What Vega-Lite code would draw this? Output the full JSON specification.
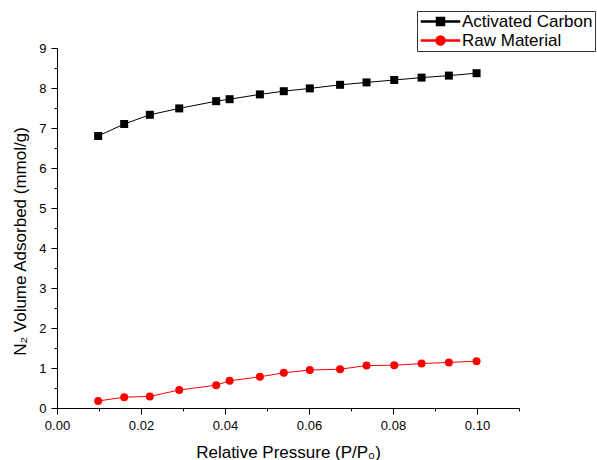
{
  "$schema": "https://vega.github.io/schema/vega-lite/v6.json",
  "width": 462,
  "height": 360,
  "autosize": {"type": "none"},
  "padding": {"left": 57, "top": 48, "right": 78, "bottom": 52},
  "config": {
    "view": {"stroke": null},
    "font": "Liberation Sans",
    "axis": {
      "grid": false,
      "domainColor": "black",
      "domainWidth": 1,
      "tickColor": "black",
      "tickWidth": 1,
      "labelColor": "black",
      "labelFontSize": 13,
      "labelFont": "Liberation Sans",
      "titleFont": "Liberation Sans",
      "titleFontSize": 17,
      "titleFontWeight": "normal",
      "titleColor": "black",
      "labelOverlap": false,
      "labelFlush": false
    },
    "legend": {
      "orient": "none",
      "legendX": 360,
      "legendY": -37,
      "title": null,
      "padding": 2,
      "strokeColor": "#333333",
      "fillColor": "white",
      "labelFontSize": 17,
      "labelFont": "Liberation Sans",
      "labelColor": "black",
      "labelLimit": 400,
      "symbolSize": 100,
      "symbolOpacity": 1,
      "symbolOffset": 13,
      "labelOffset": 13,
      "rowPadding": 1
    }
  },
  "data": {
    "values": [
      {"p": 0.0098, "v": 6.80, "s": "Activated Carbon"},
      {"p": 0.0160, "v": 7.10, "s": "Activated Carbon"},
      {"p": 0.0221, "v": 7.33, "s": "Activated Carbon"},
      {"p": 0.0291, "v": 7.49, "s": "Activated Carbon"},
      {"p": 0.0379, "v": 7.67, "s": "Activated Carbon"},
      {"p": 0.0411, "v": 7.72, "s": "Activated Carbon"},
      {"p": 0.0483, "v": 7.84, "s": "Activated Carbon"},
      {"p": 0.0540, "v": 7.92, "s": "Activated Carbon"},
      {"p": 0.0602, "v": 7.99, "s": "Activated Carbon"},
      {"p": 0.0674, "v": 8.08, "s": "Activated Carbon"},
      {"p": 0.0737, "v": 8.14, "s": "Activated Carbon"},
      {"p": 0.0803, "v": 8.20, "s": "Activated Carbon"},
      {"p": 0.0868, "v": 8.26, "s": "Activated Carbon"},
      {"p": 0.0933, "v": 8.31, "s": "Activated Carbon"},
      {"p": 0.0999, "v": 8.37, "s": "Activated Carbon"},
      {"p": 0.0098, "v": 0.175, "s": "Raw Material"},
      {"p": 0.0160, "v": 0.27, "s": "Raw Material"},
      {"p": 0.0221, "v": 0.29, "s": "Raw Material"},
      {"p": 0.0291, "v": 0.45, "s": "Raw Material"},
      {"p": 0.0379, "v": 0.57, "s": "Raw Material"},
      {"p": 0.0411, "v": 0.68, "s": "Raw Material"},
      {"p": 0.0483, "v": 0.78, "s": "Raw Material"},
      {"p": 0.0540, "v": 0.88, "s": "Raw Material"},
      {"p": 0.0602, "v": 0.95, "s": "Raw Material"},
      {"p": 0.0674, "v": 0.97, "s": "Raw Material"},
      {"p": 0.0737, "v": 1.06, "s": "Raw Material"},
      {"p": 0.0803, "v": 1.07, "s": "Raw Material"},
      {"p": 0.0868, "v": 1.11, "s": "Raw Material"},
      {"p": 0.0933, "v": 1.14, "s": "Raw Material"},
      {"p": 0.0999, "v": 1.17, "s": "Raw Material"}
    ]
  },
  "encoding": {
    "x": {
      "field": "p",
      "type": "quantitative",
      "scale": {"domain": [0, 0.11], "nice": false, "zero": false},
      "axis": {
        "title": "Relative Pressure (P/P₀)",
        "values": [0, 0.01, 0.02, 0.03, 0.04, 0.05, 0.06, 0.07, 0.08, 0.09, 0.1, 0.11],
        "tickSize": {"condition": {"test": "round(datum.value*100) % 2 === 0", "value": 6}, "value": 3},
        "labelExpr": "round(datum.value*100) % 2 === 0 ? format(datum.value, '.2f') : ''",
        "labelPadding": 5,
        "titlePadding": 12
      }
    },
    "y": {
      "field": "v",
      "type": "quantitative",
      "scale": {"domain": [0, 9], "nice": false, "zero": false},
      "axis": {
        "title": "N₂ Volume Adsorbed (mmol/g)",
        "values": [0, 0.5, 1, 1.5, 2, 2.5, 3, 3.5, 4, 4.5, 5, 5.5, 6, 6.5, 7, 7.5, 8, 8.5, 9],
        "tickSize": {"condition": {"test": "datum.value % 1 === 0", "value": 6}, "value": 3},
        "labelExpr": "datum.value % 1 === 0 ? format(datum.value, 'd') : ''",
        "labelPadding": 5,
        "titlePadding": 9,
        "titleY": 193
      }
    },
    "color": {
      "field": "s",
      "type": "nominal",
      "scale": {"domain": ["Activated Carbon", "Raw Material"], "range": ["black", "red"]},
      "legend": {"labelExpr": "datum.label + '        '"}
    }
  },
  "layer": [
    {
      "mark": {"type": "point", "filled": true, "size": 0, "opacity": 1},
      "encoding": {
        "shape": {
          "field": "s",
          "type": "nominal",
          "scale": {
            "domain": ["Activated Carbon", "Raw Material"],
            "range": [
              "M-3.8,-0.09H3.8V0.09H-3.8Z M-0.8,-0.8H0.8V0.8H-0.8Z",
              "M-3.8,-0.09H3.8V0.09H-3.8Z M0.9,0A0.9,0.9,0,1,1,-0.9,0A0.9,0.9,0,1,1,0.9,0Z"
            ]
          },
          "legend": {"labelExpr": "datum.label + '        '"}
        }
      }
    },
    {
      "mark": {"type": "line", "strokeWidth": 1}
    },
    {
      "transform": [{"filter": "datum.s === 'Activated Carbon'"}],
      "mark": {"type": "point", "filled": true, "size": 64, "opacity": 1, "shape": "square"}
    },
    {
      "transform": [{"filter": "datum.s === 'Raw Material'"}],
      "mark": {"type": "point", "filled": true, "size": 64, "opacity": 1, "shape": "circle"}
    }
  ]
}
